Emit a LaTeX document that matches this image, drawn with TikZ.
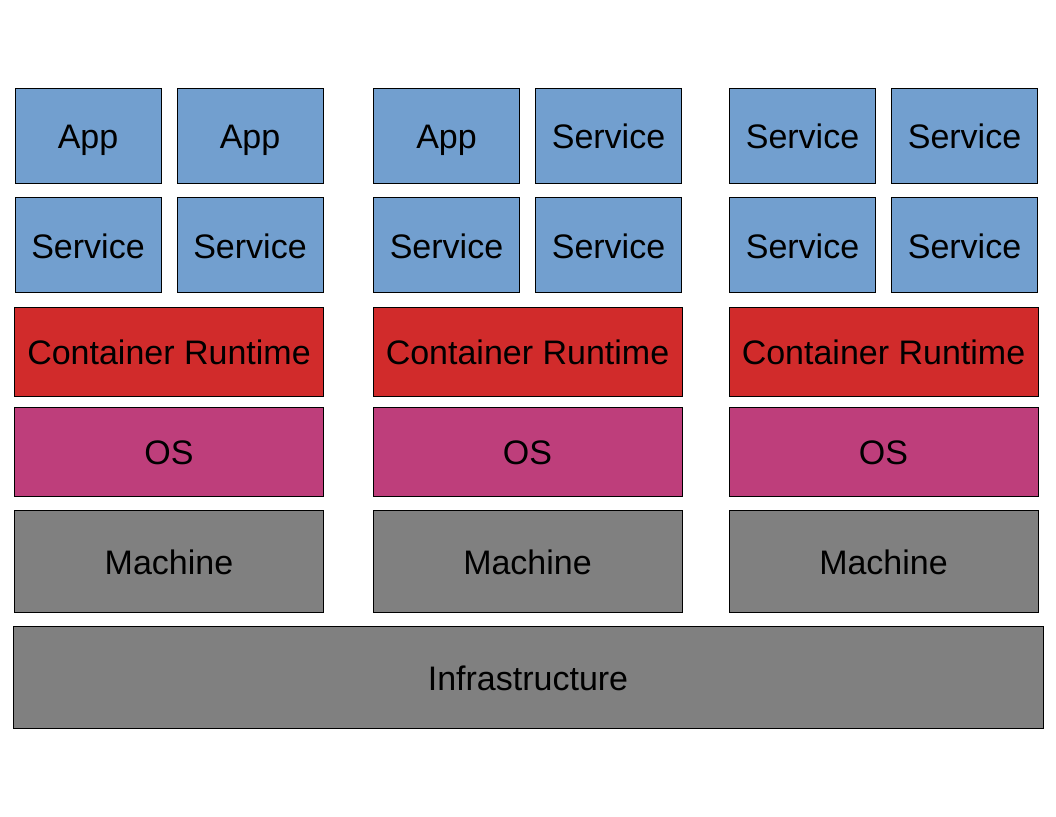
\documentclass[tikz,border=0pt]{standalone}
\usepackage{fontspec}
\setmainfont{Liberation Sans}
\definecolor{appF}{HTML}{729FCF}
\definecolor{crtF}{HTML}{D12B2B}
\definecolor{osF}{HTML}{BE3E7B}
\definecolor{hwF}{HTML}{808080}
\begin{document}
\begin{tikzpicture}[x=1pt, y=-1pt,
  layer/.style={draw=black, fill=#1, line width=0.8pt, inner sep=0pt,
                text height=26pt, text depth=0pt,
                font=\fontsize{34}{40}\selectfont},
  small/.style={layer=appF, minimum width=146pt, minimum height=95pt},
  wide/.style={layer=#1, minimum width=309pt},
]
\useasboundingbox (0,0) rectangle (1056,816);

% three machine stacks: column / centre / top-row labels
\foreach \c/\cx/\ta/\tb in {1/169/App/App, 2/527.5/App/Service, 3/883.5/Service/Service} {
  \node[small] (top\c a) at (\cx-81,135.5) {\ta};
  \node[small] (top\c b) at (\cx+81,135.5) {\tb};
  \node[small] (svc\c a) at (\cx-81,245) {Service};
  \node[small] (svc\c b) at (\cx+81,245) {Service};
  \node[wide=crtF, minimum height=89pt] (crt\c) at (\cx,351.5) {Container Runtime};
  \node[wide=osF, minimum height=89pt] (os\c) at (\cx,451.5) {OS};
  \node[wide=hwF, minimum height=102pt] (mach\c) at (\cx,561) {Machine};
}

% shared base
\node[layer=hwF, minimum width=1030pt, minimum height=102pt] (infra) at (528,677) {Infrastructure};
\end{tikzpicture}
\end{document}
